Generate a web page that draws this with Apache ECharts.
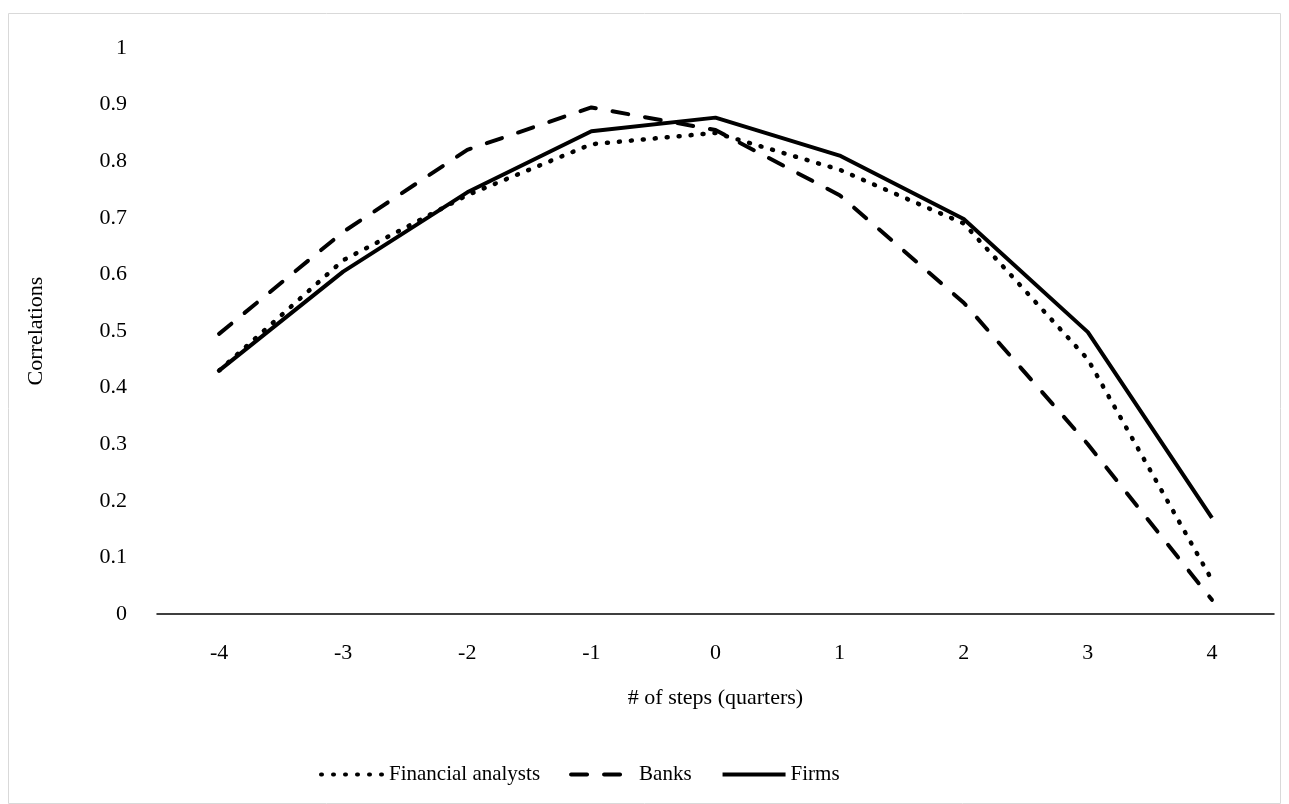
<!DOCTYPE html>
<html>
<head>
<meta charset="utf-8">
<script src="https://cdn.jsdelivr.net/npm/echarts@6/dist/echarts.min.js"></script>
<style>
  html, body { margin: 0; padding: 0; background: #fff; }
  #main { width: 1289px; height: 804px; }
</style>
</head>
<body>
<div id="main"></div>
<script>
  // 数据
  var steps = ['-4', '-3', '-2', '-1', '0', '1', '2', '3', '4'];
  var analysts = [0.43, 0.625, 0.74, 0.83, 0.85, 0.785, 0.69, 0.45, 0.06];
  var banks = [0.495, 0.675, 0.82, 0.895, 0.855, 0.74, 0.55, 0.30, 0.025];
  var firms = [0.43, 0.605, 0.745, 0.853, 0.877, 0.81, 0.698, 0.498, 0.17];

  var font = "'Liberation Serif', 'Times New Roman', serif";

  var myChart = echarts.init(document.getElementById('main'));
  var option = {
    animation: false,
    textStyle: { fontFamily: font, color: '#000' },
    graphic: [{
      type: 'rect',
      shape: { x: 8.5, y: 13.5, width: 1272, height: 790 },
      style: { fill: 'none', stroke: '#d9d9d9', lineWidth: 1 },
      silent: true
    }],
    grid: { left: 157, right: 15, top: 48, bottom: 190 },
    legend: {
      bottom: 14,
      left: 314,
      itemWidth: 63,
      itemHeight: 14,
      itemGap: 29,
      itemStyle: { opacity: 0 },
      lineStyle: { width: 4 },
      textStyle: { fontFamily: font, fontSize: 21, color: '#000' },
      data: ['Financial analysts', 'Banks', 'Firms']
    },
    xAxis: {
      type: 'category',
      data: steps,
      boundaryGap: true,
      name: '# of steps (quarters)',
      nameLocation: 'middle',
      nameGap: 73,
      nameTextStyle: { fontFamily: font, fontSize: 22, color: '#000' },
      axisLine: { lineStyle: { color: '#000', width: 1.5 } },
      axisTick: { show: false },
      axisLabel: { fontFamily: font, fontSize: 22, color: '#000', margin: 28 }
    },
    yAxis: {
      type: 'value',
      min: 0,
      max: 1,
      interval: 0.1,
      name: 'Correlations',
      nameLocation: 'middle',
      nameGap: 110,
      nameTextStyle: { fontFamily: font, fontSize: 22, color: '#000' },
      axisLine: { show: false },
      axisTick: { show: false },
      splitLine: { show: false },
      axisLabel: {
        fontFamily: font, fontSize: 22, color: '#000', margin: 30,
        formatter: function (v) { return String(Math.round(v * 10) / 10); }
      }
    },
    series: [
      {
        name: 'Financial analysts',
        type: 'line',
        data: analysts,
        symbol: 'none',
        lineStyle: { color: '#000', width: 4.5, type: [1, 11], cap: 'round' },
        itemStyle: { color: '#000' }
      },
      {
        name: 'Banks',
        type: 'line',
        data: banks,
        symbol: 'none',
        lineStyle: { color: '#000', width: 4, type: [16, 17], cap: 'round' },
        itemStyle: { color: '#000' }
      },
      {
        name: 'Firms',
        type: 'line',
        data: firms,
        symbol: 'none',
        lineStyle: { color: '#000', width: 4 },
        itemStyle: { color: '#000' }
      }
    ]
  };
  myChart.setOption(option);
</script>
</body>
</html>
